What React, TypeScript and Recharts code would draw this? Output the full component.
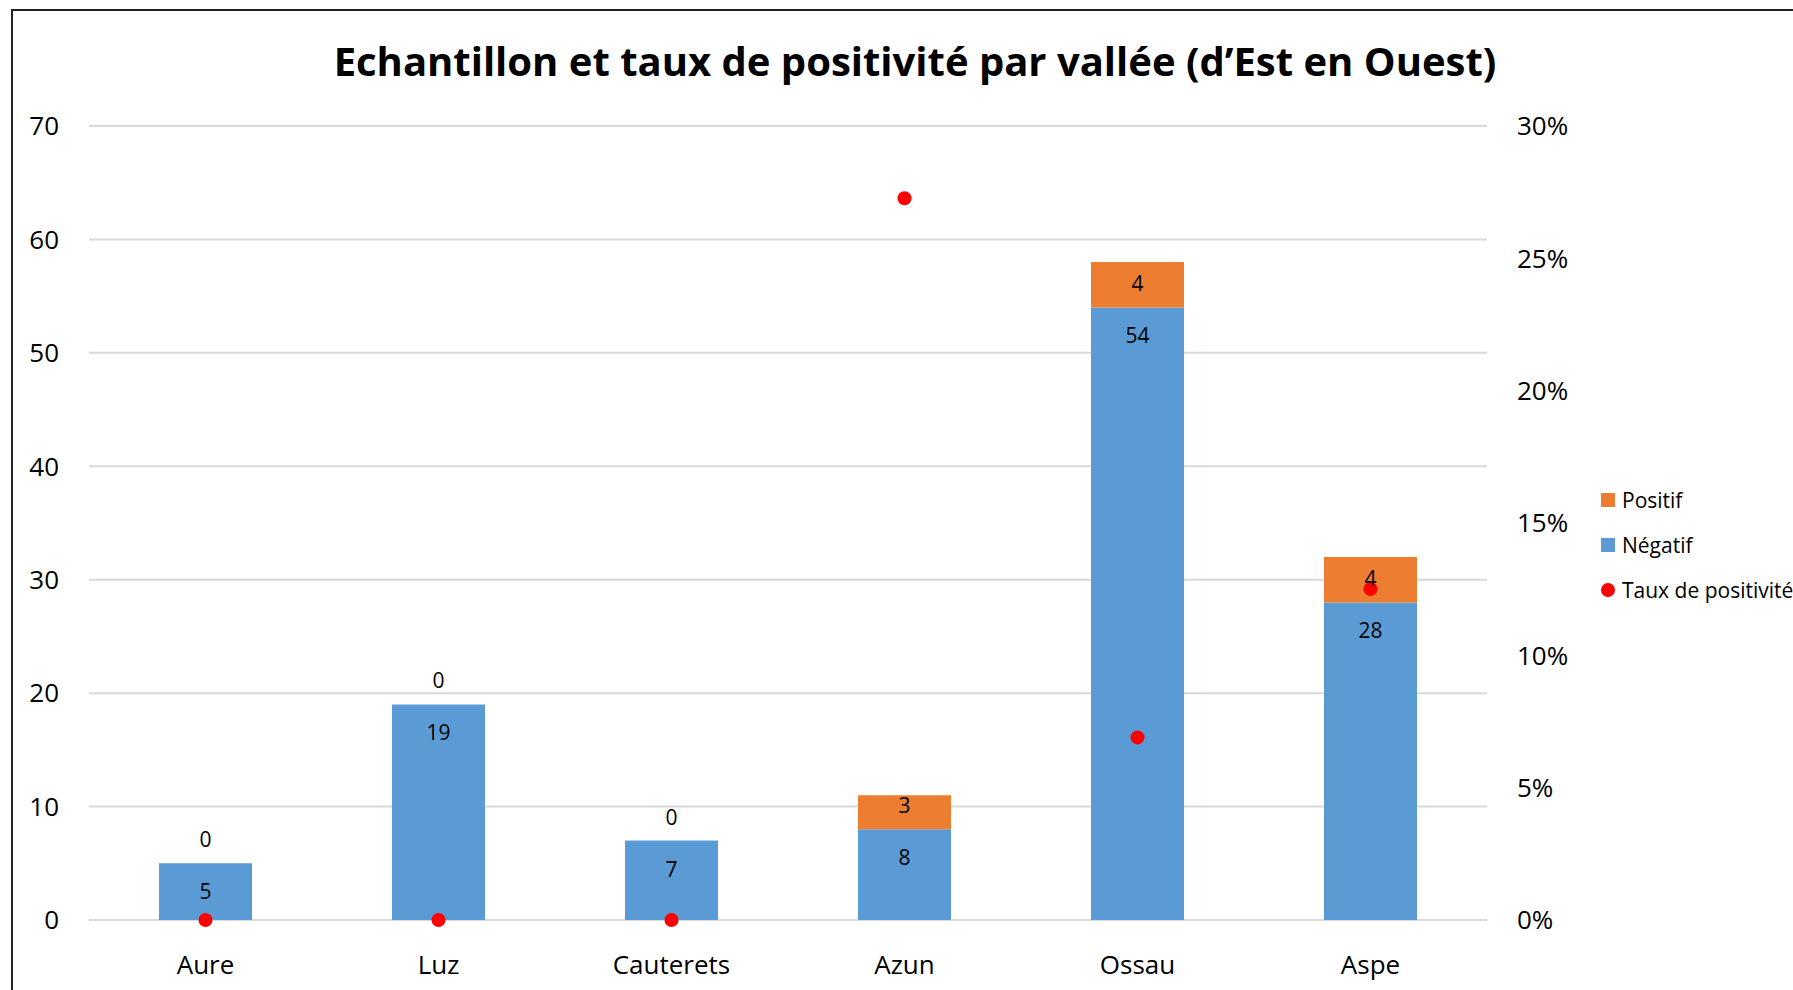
import React from 'react';
import { ComposedChart, Bar, Line, XAxis, YAxis, CartesianGrid, LabelList, Legend } from 'recharts';

const categories = ['Aure', 'Luz', 'Cauterets', 'Azun', 'Ossau', 'Aspe'];
const negatif = [5, 19, 7, 8, 54, 28];
const positif = [0, 0, 0, 3, 4, 4];
const taux = [0, 0, 0, 0.2727, 0.069, 0.125];
const leftTicks = [0, 10, 20, 30, 40, 50, 60, 70];
const rightTicks = [0, 0.05, 0.1, 0.15, 0.2, 0.25, 0.3];

const title = 'Echantillon et taux de positivité par vallée (d\u2019Est en Ouest)';
const legendItems = [
  { label: 'Positif', color: '#ED7D31', shape: 'square' },
  { label: 'Négatif', color: '#5B9BD5', shape: 'square' },
  { label: 'Taux de positivité', color: '#FF0000', shape: 'circle' },
];

const data = categories.map((c, i) => ({
  name: c,
  negatif: negatif[i],
  positif: positif[i],
  taux: taux[i],
}));

const FONT = "'Open Sans', sans-serif";

function getBox(props: any) {
  const vb = props.viewBox || {};
  const x = props.x ?? vb.x;
  const y = props.y ?? vb.y;
  const width = props.width ?? vb.width;
  const height = props.height ?? vb.height;
  return { x: Number(x), y: Number(y), width: Number(width), height: Number(height) };
}

const labelText = (x: number, y: number, value: any) => (
  <text x={x} y={y} textAnchor="middle" dominantBaseline="central" fontSize={21} fontFamily={FONT} fill="#000">
    {value}
  </text>
);

const NegLabel = (props: any) => {
  const { x, y, width, height } = getBox(props);
  const top = Math.min(y, y + height);
  return labelText(x + width / 2, top + 28, props.value);
};

// drawn on the Négatif bar: the Positif value when that segment is empty
const ZeroPosLabel = (props: any) => {
  if (Number(props.value) !== 0) return null;
  const { x, y, width, height } = getBox(props);
  const top = Math.min(y, y + height);
  return labelText(x + width / 2, top - 24, props.value);
};

const PosLabel = (props: any) => {
  const v = Number(props.value);
  if (!(v > 0)) return null;
  const { x, y, width, height } = getBox(props);
  const h = Math.abs(height);
  const top = Math.min(y, y + height);
  return labelText(x + width / 2, top + Math.max(10, h - 24), props.value);
};

const LegendContent = () => (
  <div style={{ fontFamily: FONT, fontSize: 21, color: '#000' }}>
    {legendItems.map((it, i) => (
      <div key={i} style={{ display: 'flex', alignItems: 'center', height: 45 }}>
        <span
          style={{
            display: 'inline-block',
            width: 14,
            height: 14,
            background: it.color,
            borderRadius: it.shape === 'circle' ? '50%' : 0,
            marginRight: 7,
          }}
        />
        <span style={{ whiteSpace: 'nowrap' }}>{it.label}</span>
      </div>
    ))}
  </div>
);

export default function App() {
  return (
    <div style={{ position: 'absolute', left: 0, top: 0, width: 1793, height: 990, background: '#fff', overflow: 'hidden' }}>
      <div
        style={{
          position: 'absolute',
          left: 11,
          top: 9,
          width: 1782,
          height: 981,
          borderTop: '2px solid #222',
          borderLeft: '2px solid #222',
          boxSizing: 'border-box',
        }}
      />
      <div
        style={{
          position: 'absolute',
          left: 215,
          top: 31,
          width: 1400,
          textAlign: 'center',
          fontFamily: FONT,
          fontWeight: 700,
          fontSize: 40,
          lineHeight: '60px',
          color: '#000',
        }}
      >
        {title}
      </div>
      <div style={{ position: 'absolute', left: 0, top: 0 }}>
        <ComposedChart width={1793} height={990} data={data} margin={{ top: 126, right: 0, left: 0, bottom: 0 }} barSize={93}>
          <CartesianGrid vertical={false} stroke="#d9d9d9" strokeWidth={2} yAxisId="left" />
          <XAxis
            dataKey="name"
            height={70}
            axisLine={false}
            tickLine={false}
            tickSize={0}
            tickMargin={36}
            tick={{ fontSize: 26, fontFamily: FONT, fill: '#000' }}
            interval={0}
          />
          <YAxis
            yAxisId="left"
            orientation="left"
            width={89}
            domain={[0, 70]}
            ticks={leftTicks}
            axisLine={false}
            tickLine={false}
            tickSize={0}
            tickMargin={30}
            tick={{ fontSize: 26, fontFamily: FONT, fill: '#000' }}
            interval={0}
          />
          <YAxis
            yAxisId="right"
            orientation="right"
            width={306}
            domain={[0, 0.3]}
            ticks={rightTicks}
            axisLine={false}
            tickLine={false}
            tickSize={0}
            tickMargin={30}
            tick={{ fontSize: 26, fontFamily: FONT, fill: '#000', textAnchor: 'start' }}
            tickFormatter={(v: number) => `${Math.round(v * 100)}%`}
            interval={0}
          />
          <Bar yAxisId="left" dataKey="negatif" stackId="a" fill="#5B9BD5" isAnimationActive={false}>
            <LabelList dataKey="negatif" content={NegLabel} />
            <LabelList dataKey="positif" content={ZeroPosLabel} />
          </Bar>
          <Bar yAxisId="left" dataKey="positif" stackId="a" fill="#ED7D31" isAnimationActive={false}>
            <LabelList dataKey="positif" content={PosLabel} />
          </Bar>
          <Line
            yAxisId="right"
            dataKey="taux"
            stroke="none"
            strokeWidth={0}
            dot={{ r: 7, fill: '#FF0000', stroke: 'none', strokeWidth: 0 }}
            activeDot={false}
            isAnimationActive={false}
          />
          <Legend
            layout="vertical"
            align="center"
            verticalAlign="middle"
            content={LegendContent}
            wrapperStyle={{ position: 'absolute', left: 1601, top: 477, width: 200, height: 135 }}
          />
        </ComposedChart>
      </div>
    </div>
  );
}
